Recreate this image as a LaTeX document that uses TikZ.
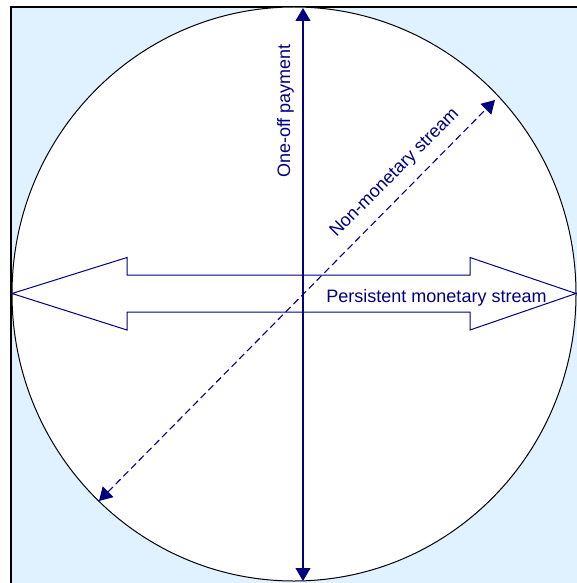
\documentclass[tikz,border=0pt]{standalone}
\usepackage{fontspec}
\setmainfont{Liberation Sans}
\usetikzlibrary{arrows.meta}
\definecolor{navyline}{RGB}{0,0,128}
\definecolor{paleblue}{RGB}{224,242,255}

\begin{document}
\begin{tikzpicture}[x=1pt,y=-1pt,
  flow/.style={navyline,line width=1.1pt,{Triangle[length=13pt,width=15pt]}-{Triangle[length=13pt,width=15pt]}},
  lbl/.style={text=navyline,font=\fontsize{18}{21}\selectfont,inner sep=0pt}]
\useasboundingbox (0,0) rectangle (576,583);
\draw[fill=paleblue,line width=1.2pt] (11,7) rectangle (580,583.4);
\draw[fill=white,line width=1pt] (294,294) ellipse [x radius=282,y radius=287];

% wide arrow across
\draw[navyline,line width=1pt,fill=white] (12,293.5) -- (127,257.5) -- (127,275) -- (470,275) -- (470,257.5)
  -- (576,293.5) -- (470,330) -- (470,312) -- (127,312) -- (127,330) -- cycle;

\coordinate (ptop) at (303,8);
\coordinate (pbot) at (303,581);
\coordinate (nlow) at (99,501);
\coordinate (nup) at (495,100);

\draw[flow] (pbot) -- (ptop);
\draw[flow,dash pattern=on 7pt off 4pt] (nlow) -- (nup);

\node[lbl,rotate=90] (oneoff) at (285.5,111) {One-off payment};
\node[lbl,rotate=45] (nonmon) at (395,173) {Non-monetary stream};
\node[lbl,anchor=base] (persist) at (436.5,302) {Persistent monetary stream};
\end{tikzpicture}
\end{document}
